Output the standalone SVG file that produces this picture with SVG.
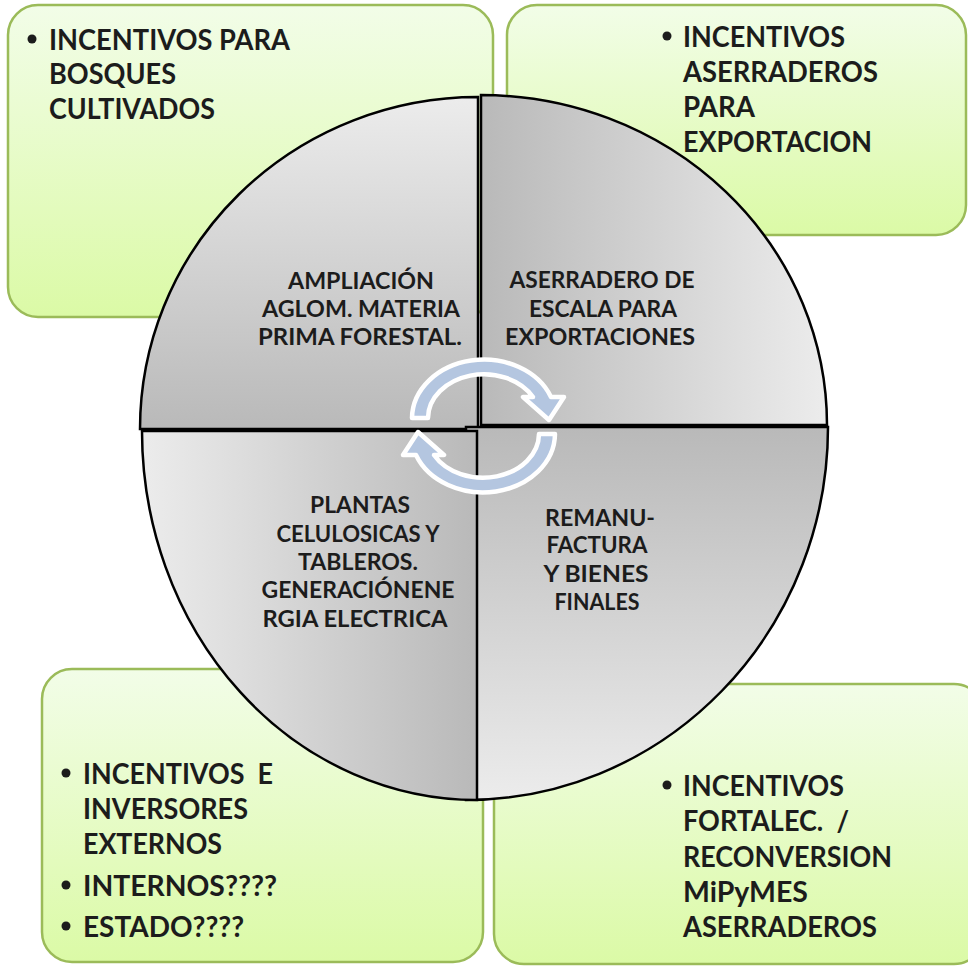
<svg xmlns="http://www.w3.org/2000/svg" width="968" height="966" viewBox="0 0 968 966">
<defs>
<linearGradient id="gGreen" x1="0" y1="0" x2="0" y2="1">
<stop offset="0" stop-color="#f2fde8"/>
<stop offset="1" stop-color="#dbfaa6"/>
</linearGradient>
<linearGradient id="gDown" x1="0" y1="0" x2="0" y2="1">
<stop offset="0" stop-color="#ececec"/>
<stop offset="1" stop-color="#b9b9b9"/>
</linearGradient>
<linearGradient id="gUp" x1="0" y1="0" x2="0" y2="1">
<stop offset="0" stop-color="#b9b9b9"/>
<stop offset="1" stop-color="#ececec"/>
</linearGradient>
<linearGradient id="gRight" x1="0" y1="0" x2="1" y2="0">
<stop offset="0" stop-color="#b9b9b9"/>
<stop offset="1" stop-color="#ececec"/>
</linearGradient>
<linearGradient id="gLeft" x1="0" y1="0" x2="1" y2="0">
<stop offset="0" stop-color="#ececec"/>
<stop offset="1" stop-color="#b9b9b9"/>
</linearGradient>
<style>
.box{fill:url(#gGreen);stroke:#9bbb59;stroke-width:2.5}
.quad{stroke:#000;stroke-width:2.5;stroke-linejoin:miter}
.bt{font-family:Lato,"Open Sans","Liberation Sans",sans-serif;font-weight:bold;font-size:28.5px;fill:#1c1c1c;white-space:pre}
.qt{font-family:Lato,"Open Sans","Liberation Sans",sans-serif;font-weight:bold;font-size:22.5px;fill:#1c1c1c;text-anchor:middle}
.dot{fill:#1c1c1c}
.arr{fill:#b4c6e0;stroke:#fff;stroke-width:4.5;stroke-linejoin:round}
</style>
</defs>

<g id="box-tl">
<rect class="box" x="8" y="5" width="485" height="312" rx="30"/>
<circle class="dot" cx="32" cy="39" r="4.5"/>
<text class="bt" x="49" y="50" textLength="241" lengthAdjust="spacingAndGlyphs">INCENTIVOS PARA</text>
<text class="bt" x="49" y="84" textLength="127" lengthAdjust="spacingAndGlyphs">BOSQUES</text>
<text class="bt" x="49" y="118.5" textLength="166" lengthAdjust="spacingAndGlyphs">CULTIVADOS</text>
</g>

<g id="box-tr">
<rect class="box" x="507" y="5" width="459" height="230" rx="30"/>
<circle class="dot" cx="667" cy="36" r="4.5"/>
<text class="bt" x="683" y="47" textLength="162" lengthAdjust="spacingAndGlyphs">INCENTIVOS</text>
<text class="bt" x="683" y="82" textLength="195" lengthAdjust="spacingAndGlyphs">ASERRADEROS</text>
<text class="bt" x="683" y="117" textLength="72" lengthAdjust="spacingAndGlyphs">PARA</text>
<text class="bt" x="683" y="152" textLength="189" lengthAdjust="spacingAndGlyphs">EXPORTACION</text>
</g>

<g id="box-bl">
<rect class="box" x="42" y="669" width="441" height="293" rx="30"/>
<circle class="dot" cx="66" cy="773" r="4.5"/>
<text class="bt" x="83" y="784" textLength="190" lengthAdjust="spacingAndGlyphs">INCENTIVOS  E</text>
<text class="bt" x="83" y="819" textLength="165" lengthAdjust="spacingAndGlyphs">INVERSORES</text>
<text class="bt" x="83" y="854" textLength="139" lengthAdjust="spacingAndGlyphs">EXTERNOS</text>
<circle class="dot" cx="66" cy="885" r="4.5"/>
<text class="bt" x="83" y="896" textLength="194" lengthAdjust="spacingAndGlyphs">INTERNOS????</text>
<circle class="dot" cx="66" cy="926" r="4.5"/>
<text class="bt" x="83" y="937" textLength="161" lengthAdjust="spacingAndGlyphs">ESTADO????</text>
</g>

<g id="box-br">
<rect class="box" x="494" y="684" width="490" height="280" rx="30"/>
<circle class="dot" cx="667" cy="785" r="4.5"/>
<text class="bt" x="683" y="796" textLength="161" lengthAdjust="spacingAndGlyphs">INCENTIVOS</text>
<text class="bt" x="683" y="831" textLength="166" lengthAdjust="spacingAndGlyphs">FORTALEC.  /</text>
<text class="bt" x="683" y="867" textLength="209" lengthAdjust="spacingAndGlyphs">RECONVERSION</text>
<text class="bt" x="683" y="902" textLength="125" lengthAdjust="spacingAndGlyphs">MiPyMES</text>
<text class="bt" x="683" y="937" textLength="194" lengthAdjust="spacingAndGlyphs">ASERRADEROS</text>
</g>

<g id="quad-tl">
<path class="quad" fill="url(#gDown)" d="M478,429 L140,429 A338 332 0 0 1 478,97 Z"/>
<text class="qt" x="361" y="289" textLength="146" lengthAdjust="spacingAndGlyphs">AMPLIACIÓN</text>
<text class="qt" x="361" y="317" textLength="198" lengthAdjust="spacingAndGlyphs">AGLOM. MATERIA</text>
<text class="qt" x="360" y="345" textLength="204" lengthAdjust="spacingAndGlyphs">PRIMA FORESTAL.</text>
</g>

<g id="quad-tr">
<path class="quad" fill="url(#gRight)" d="M481,425 L481,95 A346 330 0 0 1 827,425 Z"/>
<text class="qt" x="602" y="288" textLength="185" lengthAdjust="spacingAndGlyphs">ASERRADERO DE</text>
<text class="qt" x="603" y="317" textLength="148" lengthAdjust="spacingAndGlyphs">ESCALA PARA</text>
<text class="qt" x="600" y="345" textLength="190" lengthAdjust="spacingAndGlyphs">EXPORTACIONES</text>
</g>

<g id="quad-br">
<path class="quad" fill="url(#gUp)" d="M466,427 L828,427 A362 373 0 0 1 466,800 Z"/>
<text class="qt" x="600" y="526" textLength="110" lengthAdjust="spacingAndGlyphs">REMANU-</text>
<text class="qt" x="597" y="553" textLength="101" lengthAdjust="spacingAndGlyphs">FACTURA</text>
<text class="qt" x="596" y="582" textLength="105" lengthAdjust="spacingAndGlyphs">Y BIENES</text>
<text class="qt" x="597" y="610" textLength="85" lengthAdjust="spacingAndGlyphs">FINALES</text>
</g>

<g id="quad-bl">
<path class="quad" fill="url(#gLeft)" d="M477,431 L477,800 A335 369 0 0 1 142,431 Z"/>
<text class="qt" x="360" y="513" textLength="100" lengthAdjust="spacingAndGlyphs">PLANTAS</text>
<text class="qt" x="358" y="542" textLength="163" lengthAdjust="spacingAndGlyphs">CELULOSICAS Y</text>
<text class="qt" x="358" y="570" textLength="120" lengthAdjust="spacingAndGlyphs">TABLEROS.</text>
<text class="qt" x="358" y="598" textLength="193" lengthAdjust="spacingAndGlyphs">GENERACIÓNENE</text>
<text class="qt" x="355" y="627" textLength="185" lengthAdjust="spacingAndGlyphs">RGIA ELECTRICA</text>
</g>

<g id="connectors">
<path id="arrow-top" class="arr" d="M412,418 A72 59 0 0 1 551,397 L564,397 L549,420 L523,397 L533,397 A56 44 0 0 0 428,418 Z"/>
<path id="arrow-bottom" class="arr" transform="rotate(180 483.5 426)" d="M412,418 A72 59 0 0 1 551,397 L564,397 L549,420 L523,397 L533,397 A56 44 0 0 0 428,418 Z"/>
</g>
</svg>
